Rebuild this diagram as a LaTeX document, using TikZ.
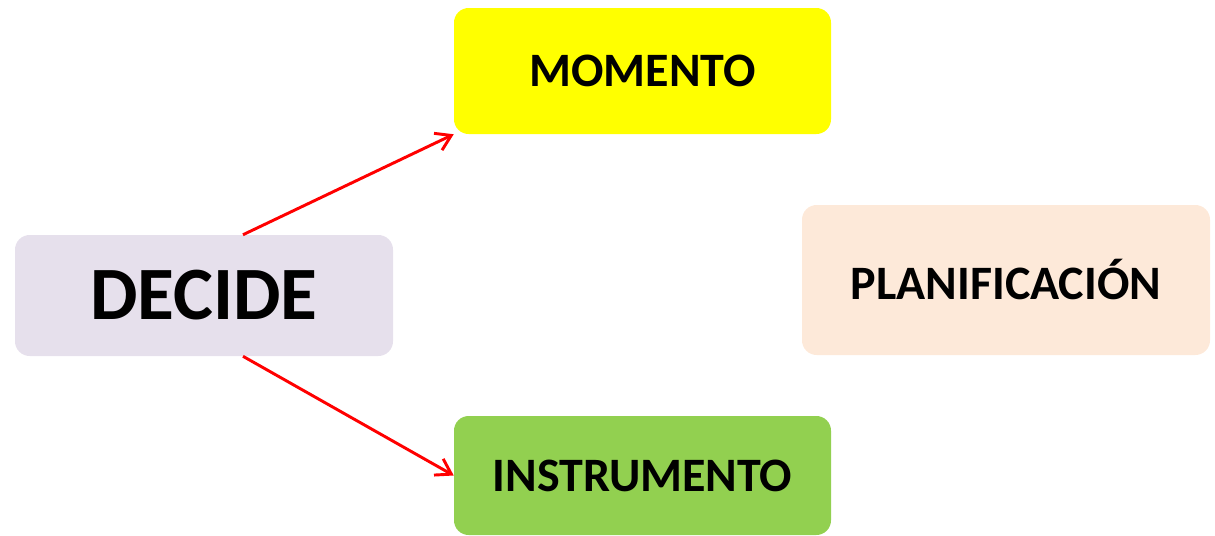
\documentclass[tikz,border=0pt]{standalone}
\usepackage{fontspec}
\setmainfont{Carlito}
\usetikzlibrary{arrows.meta,calc}
\definecolor{lav}{HTML}{E6E0EC}
\definecolor{peach}{HTML}{FDE9D9}
\definecolor{grn}{HTML}{92D050}
\definecolor{yel}{HTML}{FFFF00}
\tikzset{
  box/.style={rectangle, rounded corners=11pt, inner sep=0pt, font=\bfseries\fontsize{36}{40}\selectfont},
  conn/.style={draw=red, line width=2.2pt, -{Straight Barb[length=11pt,width=14pt,line width=2.2pt]}},
}
\begin{document}
\begin{tikzpicture}[x=0.75pt,y=-0.75pt]
\useasboundingbox (0,0) rectangle (1215,536);
\node[box, fill=lav, minimum width=378*0.75pt, minimum height=121*0.75pt, font=\bfseries\fontsize{56.5}{60}\selectfont] (d) at (204,295.5) {DECIDE};
\node[box, fill=yel, minimum width=377*0.75pt, minimum height=126*0.75pt] (m) at (642.5,71) {MOMENTO};
\node[box, fill=peach, minimum width=408*0.75pt, minimum height=150*0.75pt] (p) at (1006,280) {PLANIFICACIÓN};
\node[box, fill=grn, minimum width=377*0.75pt, minimum height=119*0.75pt] (i) at (642.5,475.5) {INSTRUMENTO};
\coordinate (a1) at ($(d.north west)!0.603!(d.north east)$);
\coordinate (a2) at ($(d.south west)!0.603!(d.south east)$);
\draw[conn] (a1) -- (m.south west);
\draw[conn] (a2) -- (i.west);
\end{tikzpicture}
\end{document}
